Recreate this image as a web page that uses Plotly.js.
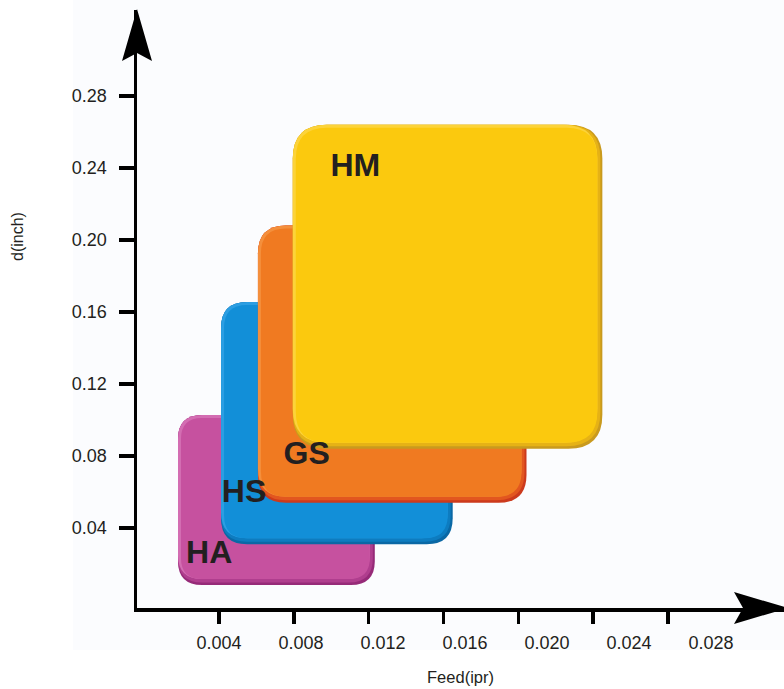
<!DOCTYPE html>
<html>
<head>
<meta charset="utf-8">
<script src="https://cdn.plot.ly/plotly-3.0.1.min.js"></script>
<style>html,body{margin:0;padding:0;background:#fff;}#chart{width:784px;height:689px;}</style>
</head>
<body>
<div id="chart"></div>
<script>
// ---- data ----
const xTickVals = [0.004, 0.008, 0.012, 0.016, 0.020, 0.024, 0.028];
const xTickText = ['0.004', '0.008', '0.012', '0.016', '0.020', '0.024', '0.028'];
const yTickVals = [0.04, 0.08, 0.12, 0.16, 0.20, 0.24, 0.28];
const yTickText = ['0.04', '0.08', '0.12', '0.16', '0.20', '0.24', '0.28'];

const boxNames  = ['HA', 'HS', 'GS', 'HM'];
const feedMin   = [0.0020, 0.0041, 0.0059, 0.0076];
const feedMax   = [0.0116, 0.0154, 0.0190, 0.0227];
const depthMin  = [0.0083, 0.0310, 0.0540, 0.0840];
const depthMax  = [0.1028, 0.1655, 0.2080, 0.2640];
const labelFeed  = [0.00352, 0.00522, 0.00828, 0.01065];
const labelDepth = [0.0250, 0.0589, 0.0800, 0.2400];

// ---- styles ----
const baseColors  = ['#c6519f', '#128fd8', '#f07a21', '#fbc90e'];
const lightColors = ['#d36db2', '#2c9ee2', '#f48f3c', '#fcd33a'];
const midColors   = ['#b03e8e', '#0d7cc0', '#e2561f', '#e6b215'];
const darkColors  = ['#962a78', '#0a68a5', '#cc3a1d', '#c99a1e'];
const radiusPx    = [24, 26, 28, 34];

const W = 784, H = 689;
const M = {l: 137, r: 0, t: 10, b: 81};
const plotW = W - M.l - M.r, plotH = H - M.t - M.b;
const xRange = [0, 0.031561];
const yRange = [-0.004444, 0.327778];
const pxPerX = plotW / (xRange[1] - xRange[0]);
const pxPerY = plotH / (yRange[1] - yRange[0]);

function roundRect(x0, x1, y0, y1, r) {
  const rx = r / pxPerX, ry = r / pxPerY;
  return `M ${x0 + rx},${y0} L ${x1 - rx},${y0} Q ${x1},${y0} ${x1},${y0 + ry} ` +
         `L ${x1},${y1 - ry} Q ${x1},${y1} ${x1 - rx},${y1} ` +
         `L ${x0 + rx},${y1} Q ${x0},${y1} ${x0},${y1 - ry} ` +
         `L ${x0},${y0 + ry} Q ${x0},${y0} ${x0 + rx},${y0} Z`;
}
function face(path, color) {
  return {type: 'path', xref: 'x', yref: 'y', layer: 'below', path: path, fillcolor: color, line: {width: 0}};
}

const shapes = [];
// faint page background
shapes.push({type: 'rect', xref: 'paper', yref: 'paper', layer: 'below',
  x0: (73 - M.l) / plotW, x1: 1.01, y0: (M.t + plotH - 650) / plotH, y1: 1.02,
  fillcolor: '#fbfcfe', line: {width: 0}});

for (let i = 0; i < boxNames.length; i++) {
  const x0 = feedMin[i], x1 = feedMax[i], y0 = depthMin[i], y1 = depthMax[i];
  const r = radiusPx[i];
  const dx = 1 / pxPerX, dy = 1 / pxPerY;
  shapes.push(face(roundRect(x0, x1, y0, y1, r), darkColors[i]));
  shapes.push(face(roundRect(x0, x1 - 2 * dx, y0 + 2.5 * dy, y1, r), midColors[i]));
  shapes.push(face(roundRect(x0, x1 - 5 * dx, y0 + 6 * dy, y1, r), lightColors[i]));
  shapes.push(face(roundRect(x0 + 3 * dx, x1 - 5 * dx, y0 + 6 * dy, y1 - 3 * dy, r - 3), baseColors[i]));
}

// arrow heads (pixel positions -> paper)
function px2paper(px, py) { return [(px - M.l) / plotW, (M.t + plotH - py) / plotH]; }
function arrowPath(pts) {
  return pts.map((p, k) => { const q = px2paper(p[0], p[1]); return (k ? 'L ' : 'M ') + q[0] + ',' + q[1]; }).join(' ') + ' Z';
}
shapes.push({type: 'path', xref: 'paper', yref: 'paper', layer: 'above',
  path: arrowPath([[137, 9], [152, 61], [137, 53], [122, 61]]), fillcolor: '#000', line: {width: 0}});
shapes.push({type: 'path', xref: 'paper', yref: 'paper', layer: 'above',
  path: arrowPath([[788, 608], [734, 592], [743, 608], [734, 624]]), fillcolor: '#000', line: {width: 0}});

// tick mark axis (the drawn tick marks are spaced slightly tighter than the labels)
const tickScale = 74.83 / 0.004;
const x2Start = -(144.17 - M.l) / tickScale;
const x2Range = [x2Start, x2Start + plotW / tickScale];

const data = [
  {type: 'scatter', mode: 'text', x: labelFeed, y: labelDepth,
   text: boxNames.map(n => '<b>' + n + '</b>'), textposition: 'middle center',
   textfont: {family: 'Liberation Sans, Arial, sans-serif', size: 32, color: '#231f20'},
   hoverinfo: 'skip', showlegend: false},
  {type: 'scatter', mode: 'markers', x: [], y: [], xaxis: 'x2', yaxis: 'y', showlegend: false, hoverinfo: 'skip'}
];

const layout = {
  width: W, height: H, margin: M,
  paper_bgcolor: '#ffffff', plot_bgcolor: 'rgba(0,0,0,0)',
  showlegend: false, hovermode: false,
  font: {family: 'Liberation Sans, Arial, sans-serif', color: '#231f20'},
  xaxis: {
    range: xRange, showgrid: false, zeroline: false,
    showline: true, linecolor: '#000', linewidth: 3.5,
    tickmode: 'array', tickvals: xTickVals, ticktext: xTickText,
    ticks: '', ticklabelstandoff: 16,
    tickfont: {size: 18, color: '#231f20', family: 'Liberation Sans, Arial, sans-serif'},
    title: {text: 'Feed(ipr)', standoff: 20,
      font: {size: 16.5, color: '#231f20', family: 'Liberation Sans, Arial, sans-serif'}}
  },
  xaxis2: {
    range: x2Range, overlaying: 'x', anchor: 'y', side: 'bottom',
    showgrid: false, zeroline: false, showline: false,
    tickmode: 'array', tickvals: xTickVals, ticks: 'outside', ticklen: 15, tickwidth: 3.5,
    tickcolor: '#000', showticklabels: false
  },
  yaxis: {
    range: yRange, showgrid: false, zeroline: false,
    showline: true, linecolor: '#000', linewidth: 3.5,
    tickmode: 'array', tickvals: yTickVals, ticktext: yTickText,
    ticks: 'outside', ticklen: 15, tickwidth: 3.5, tickcolor: '#000',
    ticklabelstandoff: 8,
    tickfont: {size: 18, color: '#231f20', family: 'Liberation Sans, Arial, sans-serif'}
  },
  shapes: shapes,
  annotations: [
    {text: 'd(inch)', xref: 'paper', yref: 'paper',
     x: (18 - M.l) / plotW, y: (M.t + plotH - 236) / plotH,
     xanchor: 'center', yanchor: 'middle', showarrow: false, textangle: -90,
     font: {size: 16, color: '#231f20', family: 'Liberation Sans, Arial, sans-serif'}}
  ]
};

Plotly.newPlot('chart', data, layout, {staticPlot: true, displayModeBar: false});
</script>
</body>
</html>
